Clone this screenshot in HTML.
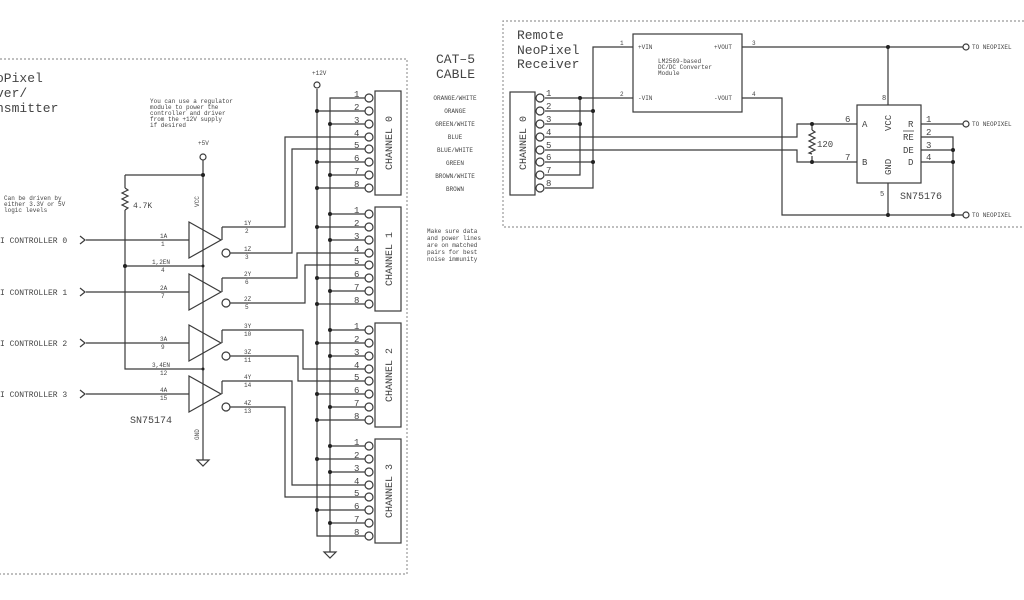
<!DOCTYPE html>
<html><head><meta charset="utf-8"><style>
html,body{margin:0;padding:0;background:#fff;}
svg{display:block;}
text{font-family:"Liberation Mono","DejaVu Sans Mono",monospace;fill:#444;}
.s{font-size:6px;}
.p{font-size:9px;}
</style></head><body>
<svg width="1024" height="600" viewBox="0 0 1024 600" xmlns="http://www.w3.org/2000/svg">
<g fill="none" stroke="#999" stroke-width="1.2" stroke-dasharray="2,2">
<path d="M0 59 H407 V574 H0"/>
<path d="M1024 21 H503 V227 H1024"/>
</g>
<g stroke="#3a3a3a" stroke-width="1.2" fill="none">
<path d="M317 89 V536 H365"/>
<path d="M365 98 H330 V552"/>
<path d="M324 552 H336 L330 558 Z"/>
<circle cx="317" cy="85" r="3"/>
<path d="M317 111H365 M330 124H365 M317 162H365 M330 175H365 M317 188H365"/>
<path d="M222 227H285V137H365 M230 253H292V149H365"/>
<path d="M330 214H365 M317 227H365 M330 240H365 M317 278H365 M330 291H365 M317 304H365"/>
<path d="M222 278H297V253H365 M230 303H305V265H365"/>
<path d="M330 330H365 M317 343H365 M330 356H365 M317 394H365 M330 407H365 M317 420H365"/>
<path d="M222 330H303V369H365 M230 356H298V381H365"/>
<path d="M330 446H365 M317 459H365 M330 472H365 M317 510H365 M330 523H365"/>
<path d="M222 381H292V485H365 M230 407H285V497H365"/>
<rect x="375" y="91" width="26" height="104"/>
<rect x="375" y="207" width="26" height="104"/>
<rect x="375" y="323" width="26" height="104"/>
<rect x="375" y="439" width="26" height="104"/>
<path d="M189 222V258L221 240Z M189 274V310L221 292Z M189 325V361L221 343Z M189 376V412L221 394Z"/>
<path d="M222 227V240 M222 278V292 M222 330V343 M222 381V394"/>
<circle cx="226" cy="253" r="4"/><circle cx="226" cy="303" r="4"/><circle cx="226" cy="356" r="4"/><circle cx="226" cy="407" r="4"/>
<path d="M86 240H189 M86 292H189 M86 343H189 M86 394H189"/>
<path d="M80 236L85 240L80 244 M80 288L85 292L80 296 M80 339L85 343L80 347 M80 390L85 394L80 398"/>
<path d="M203 160V460 M125 175H203 M125 175V188 M125 210V369H203 M125 266H203"/>
<path d="M125 188l3 2l-6 3l6 3l-6 3l6 3l-6 3l6 3l-3 2"/>
<circle cx="203" cy="157" r="3"/>
<path d="M197 460H209L203 466Z"/>
<rect x="510" y="92" width="25" height="103"/>
<path d="M545 98H633 M545 111H593 M545 124H580 M545 137H797V124H857 M545 150H797V162H857 M545 162H593 M545 175H580V98 M545 188H593V47H633"/>
<rect x="633" y="34" width="109" height="78"/>
<path d="M742 47H963 M742 98H782V215H963 M888 47V105 M888 183V215"/>
<path d="M812 124V130 M812 156V162"/>
<path d="M812 130l3 2l-6 3l6 3l-6 3l6 3l-6 3l6 3l-6 3l3 1"/>
<rect x="857" y="105" width="64" height="78"/>
<path d="M921 124H963 M921 137H953V215 M921 150H953 M921 162H953"/>
<circle cx="966" cy="47" r="3"/><circle cx="966" cy="124" r="3"/><circle cx="966" cy="215" r="3"/>
</g>
<g fill="#fff" stroke="#3a3a3a" stroke-width="1.2">
<circle cx="369" cy="98" r="4"/><circle cx="369" cy="111" r="4"/><circle cx="369" cy="124" r="4"/><circle cx="369" cy="137" r="4"/><circle cx="369" cy="149" r="4"/><circle cx="369" cy="162" r="4"/><circle cx="369" cy="175" r="4"/><circle cx="369" cy="188" r="4"/>
<circle cx="369" cy="214" r="4"/><circle cx="369" cy="227" r="4"/><circle cx="369" cy="240" r="4"/><circle cx="369" cy="253" r="4"/><circle cx="369" cy="265" r="4"/><circle cx="369" cy="278" r="4"/><circle cx="369" cy="291" r="4"/><circle cx="369" cy="304" r="4"/>
<circle cx="369" cy="330" r="4"/><circle cx="369" cy="343" r="4"/><circle cx="369" cy="356" r="4"/><circle cx="369" cy="369" r="4"/><circle cx="369" cy="381" r="4"/><circle cx="369" cy="394" r="4"/><circle cx="369" cy="407" r="4"/><circle cx="369" cy="420" r="4"/>
<circle cx="369" cy="446" r="4"/><circle cx="369" cy="459" r="4"/><circle cx="369" cy="472" r="4"/><circle cx="369" cy="485" r="4"/><circle cx="369" cy="497" r="4"/><circle cx="369" cy="510" r="4"/><circle cx="369" cy="523" r="4"/><circle cx="369" cy="536" r="4"/>
<circle cx="540" cy="98" r="4"/><circle cx="540" cy="111" r="4"/><circle cx="540" cy="124" r="4"/><circle cx="540" cy="137" r="4"/><circle cx="540" cy="150" r="4"/><circle cx="540" cy="162" r="4"/><circle cx="540" cy="175" r="4"/><circle cx="540" cy="188" r="4"/>
</g>
<g fill="#222">
<circle cx="317" cy="111" r="2"/><circle cx="330" cy="124" r="2"/><circle cx="317" cy="162" r="2"/><circle cx="330" cy="175" r="2"/><circle cx="317" cy="188" r="2"/>
<circle cx="330" cy="214" r="2"/><circle cx="317" cy="227" r="2"/><circle cx="330" cy="240" r="2"/><circle cx="317" cy="278" r="2"/><circle cx="330" cy="291" r="2"/><circle cx="317" cy="304" r="2"/>
<circle cx="330" cy="330" r="2"/><circle cx="317" cy="343" r="2"/><circle cx="330" cy="356" r="2"/><circle cx="317" cy="394" r="2"/><circle cx="330" cy="407" r="2"/><circle cx="317" cy="420" r="2"/>
<circle cx="330" cy="446" r="2"/><circle cx="317" cy="459" r="2"/><circle cx="330" cy="472" r="2"/><circle cx="317" cy="510" r="2"/><circle cx="330" cy="523" r="2"/>
<circle cx="203" cy="175" r="2"/><circle cx="125" cy="266" r="2"/><circle cx="203" cy="266" r="1.5"/><circle cx="203" cy="369" r="1.5"/>
<circle cx="580" cy="98" r="2"/><circle cx="593" cy="111" r="2"/><circle cx="580" cy="124" r="2"/><circle cx="593" cy="162" r="2"/>
<circle cx="812" cy="124" r="2"/><circle cx="812" cy="162" r="2"/><circle cx="888" cy="47" r="2"/><circle cx="888" cy="215" r="2"/><circle cx="953" cy="215" r="2"/><circle cx="953" cy="150" r="2"/><circle cx="953" cy="162" r="2"/>
</g>
<g class="p">
<text x="354" y="97">1</text><text x="354" y="110">2</text><text x="354" y="123">3</text><text x="354" y="136">4</text><text x="354" y="148">5</text><text x="354" y="161">6</text><text x="354" y="174">7</text><text x="354" y="187">8</text>
<text x="354" y="213">1</text><text x="354" y="226">2</text><text x="354" y="239">3</text><text x="354" y="252">4</text><text x="354" y="264">5</text><text x="354" y="277">6</text><text x="354" y="290">7</text><text x="354" y="303">8</text>
<text x="354" y="329">1</text><text x="354" y="342">2</text><text x="354" y="355">3</text><text x="354" y="368">4</text><text x="354" y="380">5</text><text x="354" y="393">6</text><text x="354" y="406">7</text><text x="354" y="419">8</text>
<text x="354" y="445">1</text><text x="354" y="458">2</text><text x="354" y="471">3</text><text x="354" y="484">4</text><text x="354" y="496">5</text><text x="354" y="509">6</text><text x="354" y="522">7</text><text x="354" y="535">8</text>
<text x="546" y="96">1</text><text x="546" y="109">2</text><text x="546" y="122">3</text><text x="546" y="135">4</text><text x="546" y="148">5</text><text x="546" y="160">6</text><text x="546" y="173">7</text><text x="546" y="186">8</text>
</g>
<g font-size="10">
<text transform="translate(392,143) rotate(-90)" text-anchor="middle">CHANNEL 0</text>
<text transform="translate(392,259) rotate(-90)" text-anchor="middle">CHANNEL 1</text>
<text transform="translate(392,375) rotate(-90)" text-anchor="middle">CHANNEL 2</text>
<text transform="translate(392,491) rotate(-90)" text-anchor="middle">CHANNEL 3</text>
<text transform="translate(526,143) rotate(-90)" text-anchor="middle">CHANNEL 0</text>
</g>
<g font-size="8">
<text x="0" y="243">I CONTROLLER 0</text>
<text x="0" y="295">I CONTROLLER 1</text>
<text x="0" y="346">I CONTROLLER 2</text>
<text x="0" y="397">I CONTROLLER 3</text>
<text x="133" y="208">4.7K</text>
</g>
<g font-size="13">
<text x="-4" y="82">oPixel</text><text x="-4" y="97">ver/</text><text x="-4" y="112">nsmitter</text>
<text x="436" y="63">CAT–5</text><text x="436" y="78">CABLE</text>
<text x="517" y="39">Remote</text><text x="517" y="54">NeoPixel</text><text x="517" y="68">Receiver</text>
</g>
<text x="130" y="423" font-size="10">SN75174</text>
<text x="900" y="199" font-size="10">SN75176</text>
<g class="s">
<text x="150" y="103">You can use a regulator</text><text x="150" y="109">module to power the</text><text x="150" y="115">controller and driver</text><text x="150" y="121">from the +12V supply</text><text x="150" y="127">if desired</text>
<text x="4" y="200">Can be driven by</text><text x="4" y="206">either 3.3V or 5V</text><text x="4" y="212">logic levels</text>
<text x="198" y="145">+5V</text><text x="312" y="75">+12V</text>
<text x="160" y="238">1A</text><text x="161" y="246">1</text>
<text x="160" y="290">2A</text><text x="161" y="298">7</text>
<text x="160" y="341">3A</text><text x="161" y="349">9</text>
<text x="160" y="392">4A</text><text x="160" y="400">15</text>
<text x="152" y="264">1,2EN</text><text x="161" y="272">4</text>
<text x="152" y="367">3,4EN</text><text x="160" y="375">12</text>
<text x="244" y="225">1Y</text><text x="245" y="233">2</text>
<text x="244" y="251">1Z</text><text x="245" y="259">3</text>
<text x="244" y="276">2Y</text><text x="245" y="284">6</text>
<text x="244" y="301">2Z</text><text x="245" y="309">5</text>
<text x="244" y="328">3Y</text><text x="244" y="336">10</text>
<text x="244" y="354">3Z</text><text x="244" y="362">11</text>
<text x="244" y="379">4Y</text><text x="244" y="387">14</text>
<text x="244" y="405">4Z</text><text x="244" y="413">13</text>
<text transform="translate(199,207) rotate(-90)">VCC</text>
<text transform="translate(199,440) rotate(-90)">GND</text>
<text x="455" y="100" text-anchor="middle">ORANGE/WHITE</text>
<text x="455" y="113" text-anchor="middle">ORANGE</text>
<text x="455" y="126" text-anchor="middle">GREEN/WHITE</text>
<text x="455" y="139" text-anchor="middle">BLUE</text>
<text x="455" y="152" text-anchor="middle">BLUE/WHITE</text>
<text x="455" y="165" text-anchor="middle">GREEN</text>
<text x="455" y="178" text-anchor="middle">BROWN/WHITE</text>
<text x="455" y="191" text-anchor="middle">BROWN</text>
<text x="427" y="233">Make sure data</text><text x="427" y="240">and power lines</text><text x="427" y="247">are on matched</text><text x="427" y="254">pairs for best</text><text x="427" y="261">noise immunity</text>
<text x="638" y="49">+VIN</text><text x="714" y="49">+VOUT</text>
<text x="638" y="100">-VIN</text><text x="714" y="100">-VOUT</text>
<text x="658" y="63">LM2569-based</text><text x="658" y="69">DC/DC Converter</text><text x="658" y="75">Module</text>
<text x="620" y="45">1</text><text x="620" y="96">2</text><text x="752" y="45">3</text><text x="752" y="96">4</text>
<text x="972" y="49">TO NEOPIXEL</text><text x="972" y="126">TO NEOPIXEL</text><text x="972" y="217">TO NEOPIXEL</text>
</g>
<g font-size="9">
<text x="817" y="147">120</text>
<text x="845" y="122">6</text><text x="845" y="160">7</text>
<text x="862" y="127">A</text><text x="862" y="165">B</text>
<text x="908" y="127">R</text><text x="903" y="140">RE</text><text x="903" y="153">DE</text><text x="908" y="165">D</text>
<line x1="903" y1="131" x2="914" y2="131" stroke="#444" stroke-width="0.8"/>
<text x="926" y="122">1</text><text x="926" y="135">2</text><text x="926" y="148">3</text><text x="926" y="160">4</text>
<text transform="translate(891,131) rotate(-90)">VCC</text>
<text transform="translate(891,175) rotate(-90)">GND</text>
<text x="882" y="100" font-size="7">8</text><text x="880" y="196" font-size="7">5</text>
</g>
</svg>
</body></html>
